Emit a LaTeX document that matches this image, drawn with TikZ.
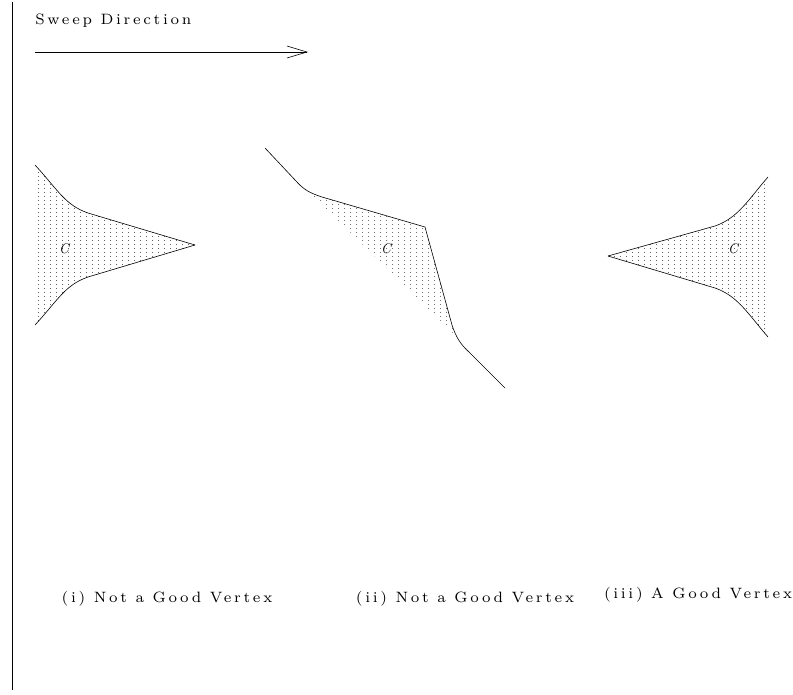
\documentclass[tikz,border=0pt]{standalone}
\usepackage{fontspec}
\usepackage{tikz}
\usetikzlibrary{arrows.meta, patterns, positioning}
\definecolor{dotgrey}{RGB}{40,40,40}
\newfontfamily\spacedfont{lmroman7-regular}[Extension=.otf, LetterSpace=18]
\pgfdeclarepatternformonly{sweepdots}{\pgfpointorigin}{\pgfpoint{6pt}{4pt}}{\pgfpoint{6pt}{4pt}}{%
  \pgfpathcircle{\pgfpoint{3pt}{2pt}}{0.55pt}\pgfusepath{fill}}

\begin{document}
\begin{tikzpicture}[x=1pt, y=-1pt, line width=0.6pt,
  caption/.style={font=\spacedfont\fontsize{15}{17}\selectfont, inner sep=0pt},
  region/.style={pattern=sweepdots, pattern color=dotgrey},
  regionlbl/.style={font=\fontsize{14}{16}\selectfont\itshape, inner sep=0pt}]
  \useasboundingbox (0,0) rectangle (793,694);
  \draw (12,2) -- (12,690);
  % sweep direction
  \node[caption, anchor=base west] (sweeplbl) at (35,24) {Sweep Direction};
  \coordinate (arrstart) at (35,52);
  \coordinate (arrend) at (308,52);
  \draw[-{Straight Barb[length=20pt, width=12pt]}] (arrstart) -- (arrend);
  % (i)
  \fill[region] (35,165) .. controls (58,190) and (65,205) .. (88,213) -- (195,245)
    -- (88,277) .. controls (65,285) and (58,300) .. (35,325) -- cycle;
  \draw (35,165) .. controls (58,190) and (65,205) .. (88,213) -- (195,245);
  \draw (35,325) .. controls (58,300) and (65,285) .. (88,277) -- (195,245);
  \node[regionlbl] (capi) at (64,249) {C};
  % (ii)
  \fill[region] (311,194) -- (322,197) -- (425,227) -- (452,325) -- (456,336) -- cycle;
  \draw (265,148) -- (296,181) .. controls (304,190) and (310,193) .. (322,197) -- (425,227)
    -- (452,325) .. controls (456,337) and (460,344) .. (470,353) -- (505,388);
  \node[regionlbl] (capii) at (386,249) {C};
  % (iii)
  \fill[region] (768,177) .. controls (748,200) and (738,218) .. (715,226) -- (608,256)
    -- (715,288) .. controls (738,296) and (748,314) .. (768,337) -- cycle;
  \draw (608,256) -- (715,226) .. controls (738,218) and (748,200) .. (768,177);
  \draw (608,256) -- (715,288) .. controls (738,296) and (748,314) .. (768,337);
  \node[regionlbl] (capiii) at (733,249) {C};
  % captions
  \node[caption, anchor=base] (lbli) at (167,602) {(i) Not a Good Vertex};
  \node[caption, anchor=base] (lblii) at (465,602) {(ii) Not a Good Vertex};
  \node[caption, anchor=base] (lbliii) at (698,598) {(iii) A Good Vertex};
\end{tikzpicture}
\end{document}
